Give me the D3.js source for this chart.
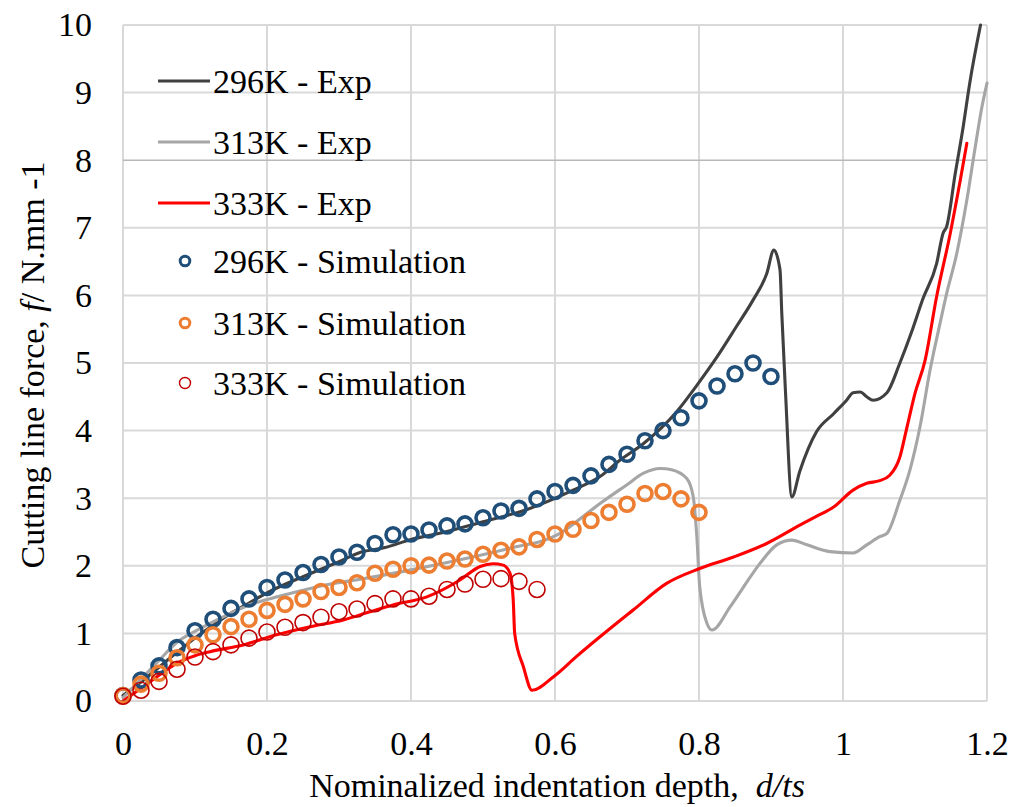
<!DOCTYPE html>
<html>
<head>
<meta charset="utf-8">
<script src="https://cdn.jsdelivr.net/npm/d3@7"></script>
<style>
  html, body { margin: 0; padding: 0; background: #fff; }
  svg text { font-family: "Liberation Serif", "Times New Roman", serif; fill: #000; }
</style>
</head>
<body>
<svg id="chart" width="1016" height="807"></svg>
<script>
// Axis ticks
const xTicks = [0, 0.2, 0.4, 0.6, 0.8, 1, 1.2];
const yTicks = [0, 1, 2, 3, 4, 5, 6, 7, 8, 9, 10];

// Experimental curves: [normalized depth, line force]
const exp296 = [[0,0.08],[0.025,0.28],[0.05,0.5],[0.075,0.72],[0.1,0.93],[0.125,1.12],[0.15,1.3],[0.175,1.45],[0.2,1.6],[0.25,1.84],[0.3,2.06],[0.33,2.2],[0.364,2.27],[0.4,2.39],[0.44,2.48],[0.5,2.65],[0.56,2.83],[0.625,3.12],[0.6625,3.32],[0.69,3.56],[0.723,3.81],[0.769,4.28],[0.797,4.67],[0.825,5.09],[0.852,5.54],[0.875,5.93],[0.894,6.32],[0.904,6.67],[0.9125,6.38],[0.915,5.73],[0.92,4.6],[0.929,3.02],[0.94,3.4],[0.963,3.98],[0.987,4.25],[1.005,4.45],[1.014,4.56],[1.024,4.57],[1.033,4.5],[1.042,4.45],[1.061,4.56],[1.079,5.0],[1.095,5.45],[1.111,5.95],[1.13,6.47],[1.139,6.92],[1.144,7.02],[1.156,7.81],[1.167,8.5],[1.176,9.14],[1.191,10.0]];
const exp313 = [[0,0.05],[0.025,0.32],[0.05,0.6],[0.075,0.87],[0.1,1.03],[0.125,1.17],[0.15,1.3],[0.175,1.42],[0.2,1.5],[0.232,1.59],[0.283,1.72],[0.329,1.8],[0.4,1.94],[0.468,2.09],[0.5375,2.26],[0.607,2.48],[0.644,2.77],[0.6625,2.92],[0.7,3.2],[0.723,3.37],[0.746,3.44],[0.762,3.42],[0.783,3.29],[0.792,3.02],[0.797,2.43],[0.801,1.69],[0.811,1.15],[0.818,1.05],[0.843,1.39],[0.862,1.69],[0.885,2.04],[0.908,2.31],[0.929,2.38],[0.95,2.31],[0.982,2.21],[1.014,2.19],[1.033,2.31],[1.051,2.43],[1.061,2.48],[1.079,2.97],[1.093,3.42],[1.107,4.06],[1.121,4.9],[1.133,5.5],[1.144,6.03],[1.158,6.62],[1.172,7.41],[1.183,8.15],[1.193,8.79],[1.2,9.14]];
const exp333 = [[0,0.0],[0.028,0.21],[0.05,0.38],[0.075,0.56],[0.1,0.67],[0.121,0.73],[0.167,0.83],[0.213,0.98],[0.26,1.1],[0.306,1.2],[0.343,1.32],[0.375,1.42],[0.422,1.54],[0.468,1.79],[0.496,1.99],[0.514,2.03],[0.528,2.01],[0.5375,1.89],[0.542,1.49],[0.544,1.0],[0.556,0.51],[0.568,0.16],[0.598,0.36],[0.63,0.66],[0.6625,0.95],[0.709,1.35],[0.755,1.74],[0.801,1.96],[0.848,2.13],[0.894,2.33],[0.94,2.6],[0.963,2.73],[0.987,2.87],[1.014,3.12],[1.033,3.22],[1.051,3.26],[1.065,3.34],[1.079,3.61],[1.088,4.01],[1.1,4.55],[1.114,5.04],[1.13,5.98],[1.149,6.92],[1.163,7.71],[1.172,8.25]];

// Simulation points share one depth grid
const simDepth = [0,0.025,0.05,0.075,0.1,0.125,0.15,0.175,0.2,0.225,0.25,0.275,0.3,0.325,0.35,0.375,0.4,0.425,0.45,0.475,0.5,0.525,0.55,0.575,0.6,0.625,0.65,0.675,0.7,0.725,0.75,0.775,0.8,0.825,0.85,0.875,0.9];
const sim296 = [0.08,0.31,0.52,0.79,1.04,1.21,1.37,1.51,1.68,1.79,1.90,2.02,2.13,2.20,2.33,2.46,2.47,2.53,2.59,2.62,2.71,2.81,2.85,2.99,3.10,3.19,3.33,3.50,3.65,3.85,4.00,4.19,4.44,4.66,4.84,5.00,4.80];
const sim313 = [0.08,0.25,0.41,0.64,0.83,0.98,1.10,1.21,1.34,1.43,1.51,1.62,1.68,1.75,1.89,1.95,2.00,2.01,2.07,2.10,2.17,2.23,2.28,2.39,2.47,2.54,2.67,2.79,2.91,3.07,3.10,2.99,2.79];
const sim333 = [0.07,0.16,0.29,0.47,0.65,0.73,0.83,0.93,1.02,1.09,1.16,1.24,1.32,1.36,1.44,1.51,1.51,1.55,1.65,1.73,1.80,1.81,1.77,1.65];

const lineSeries = [
  { name: "296K - Exp", data: exp296, color: "#404040" },
  { name: "313K - Exp", data: exp313, color: "#a6a6a6" },
  { name: "333K - Exp", data: exp333, color: "#ff0000" }
];
const simSeries = [
  { name: "296K - Simulation", values: sim296, color: "#1f4e79", r: 7, sw: 3.6 },
  { name: "313K - Simulation", values: sim313, color: "#ed7d31", r: 7, sw: 3.6 },
  { name: "333K - Simulation", values: sim333, color: "#c00000", r: 8, sw: 1.6 }
];

const svg = d3.select("#chart");
const x = d3.scaleLinear().domain([0, 1.2]).range([123, 987]);
const y = d3.scaleLinear().domain([0, 10]).range([701, 25]);

// Gridlines
const grid = svg.append("g");
grid.selectAll("line.v").data(xTicks).join("line")
  .attr("x1", d => x(d)).attr("x2", d => x(d))
  .attr("y1", y(0)).attr("y2", y(10))
  .attr("stroke", "#d9d9d9").attr("stroke-width", 2);
grid.selectAll("line.h").data(yTicks).join("line")
  .attr("x1", x(0)).attr("x2", x(1.2))
  .attr("y1", d => y(d)).attr("y2", d => y(d))
  .attr("stroke", d => d === 8 ? "#b8b8b8" : "#d9d9d9")
  .attr("stroke-width", d => d === 8 ? 1.5 : 2);

// Axes (labels only, no domain line)
const xAxis = svg.append("g").attr("transform", `translate(0,${y(0)})`)
  .call(d3.axisBottom(x).tickValues(xTicks).tickSize(0).tickPadding(30).tickFormat(d3.format("~g")));
const yAxis = svg.append("g").attr("transform", `translate(${x(0)},0)`)
  .call(d3.axisLeft(y).tickValues(yTicks).tickSize(0).tickPadding(31).tickFormat(d3.format("d")));
[xAxis, yAxis].forEach(a => {
  a.select(".domain").remove();
  a.selectAll("text").attr("font-size", 34).attr("font-family", "Liberation Serif").attr("fill", "#000");
});
xAxis.selectAll("text").attr("dy", "0.71em");

// Experimental curves
const line = d3.line().x(d => x(d[0])).y(d => y(d[1])).curve(d3.curveMonotoneX);
svg.append("g").selectAll("path").data(lineSeries).join("path")
  .attr("d", s => line(s.data))
  .attr("fill", "none")
  .attr("stroke", s => s.color)
  .attr("stroke-width", 3.1)
  .attr("stroke-linejoin", "round")
  .attr("stroke-linecap", "round");

// Simulation markers
simSeries.forEach(s => {
  svg.append("g").selectAll("circle").data(s.values).join("circle")
    .attr("cx", (v, i) => x(simDepth[i]))
    .attr("cy", v => y(v))
    .attr("r", s.r)
    .attr("fill", "none")
    .attr("stroke", s.color)
    .attr("stroke-width", s.sw);
});

// Legend
const legend = svg.append("g");
const legendY = [81, 142, 203, 261, 323, 383];
lineSeries.forEach((s, i) => {
  legend.append("line")
    .attr("x1", 158).attr("x2", 210)
    .attr("y1", legendY[i]).attr("y2", legendY[i])
    .attr("stroke", s.color).attr("stroke-width", 3.2);
  legend.append("text").attr("x", 213).attr("y", legendY[i] + 12)
    .attr("font-size", 34).text(s.name);
});
simSeries.forEach((s, i) => {
  const yy = legendY[i + 3];
  legend.append("circle").attr("cx", 185).attr("cy", yy)
    .attr("r", s.r === 8 ? 5.5 : 4.8)
    .attr("fill", "none").attr("stroke", s.color)
    .attr("stroke-width", s.sw === 1.6 ? 1.4 : 3);
  legend.append("text").attr("x", 213).attr("y", yy + 12)
    .attr("font-size", 34).text(s.name);
});

// Axis titles
const xt = svg.append("text")
  .attr("x", 557).attr("y", 797)
  .attr("text-anchor", "middle")
  .attr("font-size", 34)
  .attr("xml:space", "preserve");
xt.append("tspan").text("Nominalized indentation depth,  ");
xt.append("tspan").attr("font-style", "italic").text("d/ts");

const yt = svg.append("text")
  .attr("transform", "translate(44,365) rotate(-90)")
  .attr("text-anchor", "middle")
  .attr("font-size", 34)
  .attr("xml:space", "preserve");
yt.append("tspan").text("Cutting line force, ");
yt.append("tspan").attr("font-style", "italic").text("f");
yt.append("tspan").text("/ N.mm -1");
</script>
</body>
</html>
